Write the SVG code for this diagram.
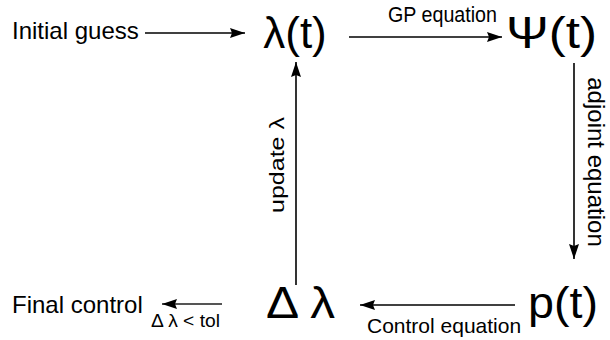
<svg xmlns="http://www.w3.org/2000/svg" width="610" height="340" viewBox="0 0 610 340">
<defs>
<marker id="ah" viewBox="0 0 15 10" refX="15" refY="5" markerWidth="15" markerHeight="10" markerUnits="userSpaceOnUse" orient="auto">
<path d="M0,0 L15,5 L0,10 L2,5 Z" fill="#000"/>
</marker>
</defs>
<style>
text{font-family:"Liberation Sans",Arial,sans-serif;fill:#000}
.big{font-size:44px}
.lbl{font-size:24px}
.c{stroke:#000;stroke-width:1.6;fill:none;marker-end:url(#ah)}
.g{stroke:#555;stroke-width:2;fill:none;marker-end:url(#ah)}
</style>
<rect width="610" height="340" fill="#fff"/>
<g id="connectors">
<line class="c" x1="145" y1="33" x2="245" y2="33"/>
<line class="c" x1="349" y1="37" x2="502" y2="37"/>
<line class="c" x1="574" y1="63" x2="574" y2="259"/>
<line class="c" x1="515" y1="305" x2="360" y2="305"/>
<line class="c" x1="296" y1="285" x2="296" y2="62"/>
<line class="g" x1="222" y1="304" x2="162" y2="304"/>
<text x="388" y="22" style="font-size:22px" textLength="109" lengthAdjust="spacingAndGlyphs">GP equation</text>
<text class="lbl" transform="translate(588,162) rotate(90)" text-anchor="middle">adjoint equation</text>
<text transform="translate(284,165) rotate(-90)" text-anchor="middle" style="font-size:21px" textLength="96" lengthAdjust="spacingAndGlyphs">update λ</text>
<text x="367" y="333" style="font-size:21px">Control equation</text>
<text x="151" y="327" style="font-size:18px" textLength="69" lengthAdjust="spacingAndGlyphs">Δ λ &lt; tol</text>
</g>
<g id="initial"><text class="lbl" x="12" y="39">Initial guess</text></g>
<g id="lambda"><text class="big" x="295" y="48" text-anchor="middle">λ(t)</text></g>
<g id="psi"><text class="big" x="506" y="48" textLength="91" lengthAdjust="spacingAndGlyphs">Ψ(t)</text></g>
<g id="p"><text class="big" x="528" y="318" textLength="70" lengthAdjust="spacingAndGlyphs">p(t)</text></g>
<g id="dlambda"><text class="big" x="266" y="318" textLength="69" lengthAdjust="spacingAndGlyphs">Δ λ</text></g>
<g id="final"><text class="lbl" x="12" y="313">Final control</text></g>
</svg>
